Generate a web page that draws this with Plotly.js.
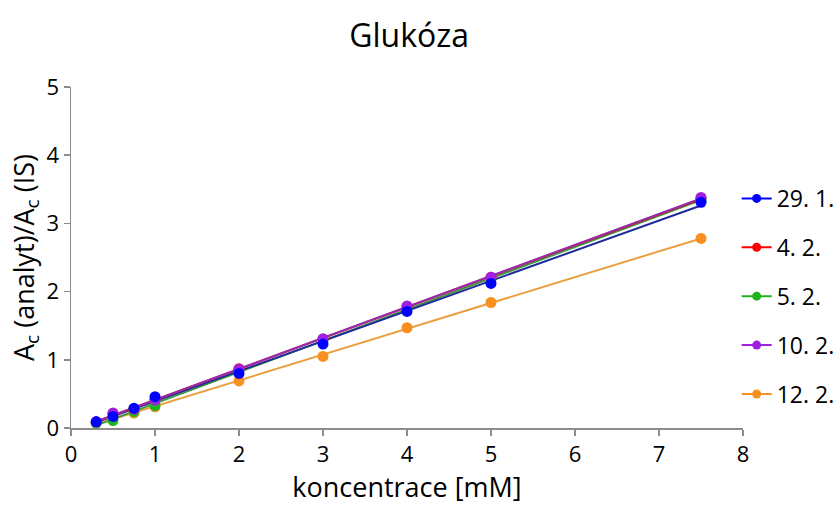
<!DOCTYPE html>
<html>
<head>
<meta charset="utf-8">
<script src="https://cdn.plot.ly/plotly-3.0.1.min.js"></script>
<style>html,body{margin:0;padding:0;background:#fff}#chart{width:840px;height:505px}</style>
</head>
<body>
<div id="chart"></div>
<script>
// Data
const concentrations = [0.3, 0.5, 0.75, 1, 2, 3, 4, 5, 7.5];
const seriesNames = ["29. 1.", "4. 2.", "5. 2.", "10. 2.", "12. 2."];
const s_29_1 = [0.09, 0.17, 0.29, 0.46, 0.80, 1.23, 1.71, 2.12, 3.31];
const s_4_2  = [0.09, 0.21, 0.28, 0.42, 0.87, 1.30, 1.78, 2.21, 3.37];
const s_5_2  = [0.07, 0.11, 0.24, 0.33, 0.84, 1.28, 1.76, 2.18, 3.34];
const s_10_2 = [0.09, 0.22, 0.28, 0.41, 0.86, 1.31, 1.79, 2.21, 3.38];
const s_12_2 = [0.07, 0.14, 0.22, 0.31, 0.69, 1.05, 1.47, 1.84, 2.78];

const seriesValues = [s_29_1, s_4_2, s_5_2, s_10_2, s_12_2];
const markerColors = ["#0000ff", "#ff0000", "#1fb31f", "#a020e0", "#f7901e"];
const lineColors   = ["#1f2a9c", "#d0103a", "#3a9a3a", "#9a2aa8", "#e9a040"];

const FONT = "Open Sans, Noto Sans, sans-serif";

// least-squares linear trendline from the data
function fit(xs, ys) {
  const n = xs.length;
  let sx = 0, sy = 0, sxx = 0, sxy = 0;
  for (let i = 0; i < n; i++) { sx += xs[i]; sy += ys[i]; sxx += xs[i]*xs[i]; sxy += xs[i]*ys[i]; }
  const b = (n*sxy - sx*sy) / (n*sxx - sx*sx);
  const a = (sy - b*sx) / n;
  const x0 = Math.min(...xs), x1 = Math.max(...xs);
  return {x: [x0, x1], y: [a + b*x0, a + b*x1]};
}

const traces = [];
// trendlines (drawn first)
[4, 2, 0, 1, 3].forEach(i => {
  const f = fit(concentrations, seriesValues[i]);
  traces.push({x: f.x, y: f.y, mode: "lines", line: {color: lineColors[i], width: 2},
    showlegend: false, hoverinfo: "skip"});
});
// markers (blue on top)
[4, 2, 1, 3, 0].forEach(i => {
  traces.push({x: concentrations, y: seriesValues[i], mode: "markers",
    marker: {color: markerColors[i], size: 11}, showlegend: false, name: seriesNames[i]});
});
// legend entries
[0, 1, 2, 3, 4].forEach(i => {
  traces.push({x: [null], y: [null], mode: "lines+markers", name: seriesNames[i],
    legendgroup: "g" + i,
    marker: {color: markerColors[i], size: 9}, line: {color: markerColors[i], width: 2}});
});

const layout = {
  width: 840, height: 505,
  margin: {l: 71, r: 97, t: 87, b: 77, autoexpand: false},
  paper_bgcolor: "#fff", plot_bgcolor: "#fff",
  font: {family: FONT, color: "#000"},
  title: {text: "Glukóza", font: {family: FONT, size: 32, color: "#000"}, x: 0.487, xanchor: "center", y: 0.93, yanchor: "middle"},
  xaxis: {
    range: [0, 8], dtick: 1, tick0: 0, showgrid: false, zeroline: false,
    showline: true, linecolor: "#8c8c8c", linewidth: 1.5,
    ticks: "outside", ticklen: 6, tickcolor: "#8c8c8c", tickwidth: 1.5,
    tickfont: {family: FONT, size: 22, color: "#000"},
    title: {text: "koncentrace [mM]", font: {family: FONT, size: 27, color: "#000"}, standoff: 6}
  },
  yaxis: {
    range: [0, 5], dtick: 1, tick0: 0, showgrid: false, zeroline: false,
    showline: true, linecolor: "#8c8c8c", linewidth: 1.5,
    ticks: "outside", ticklen: 6, tickcolor: "#8c8c8c", tickwidth: 1.5,
    tickfont: {family: FONT, size: 22, color: "#000"},
    title: {text: "A<sub>c</sub> (analyt)/A<sub>c</sub> (IS)", font: {family: FONT, size: 27, color: "#000"}, standoff: 4}
  },
  legend: {
    xref: "container", yref: "container",
    x: 0.877, xanchor: "left", y: 0.413, yanchor: "middle",
    font: {family: FONT, size: 23, color: "#000"},
    tracegroupgap: 16, bgcolor: "rgba(0,0,0,0)", borderwidth: 0
  },
  showlegend: true
};

Plotly.newPlot("chart", traces, layout, {displayModeBar: false, staticPlot: true});
</script>
</body>
</html>
